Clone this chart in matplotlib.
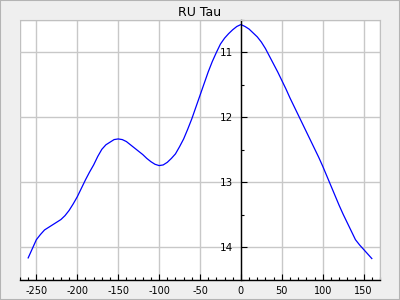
import numpy as np
import matplotlib
matplotlib.use('Agg')
import matplotlib.pyplot as plt
from matplotlib.ticker import MultipleLocator, FuncFormatter
from matplotlib.patches import Rectangle

# phase (days) and magnitude
phase = [-260, -255, -250, -245, -240, -235, -230, -225, -220, -215,
         -210, -205, -200, -195, -190, -185, -180, -175, -170, -165,
         -160, -155, -150, -145, -140, -135, -130, -125, -120, -115,
         -110, -105, -100, -95, -90, -85, -80, -75, -70, -65,
         -60, -55, -50, -45, -40, -35, -30, -25, -20, -15,
         -10, -5, 0, 5, 10, 15, 20, 25, 30, 35,
         40, 45, 50, 55, 60, 65, 70, 75, 80, 85,
         90, 95, 100, 105, 110, 115, 120, 125, 130, 135,
         140, 145, 150, 155, 160]
mag = [14.16, 14.02, 13.88, 13.80, 13.73, 13.69, 13.65, 13.61, 13.57, 13.51,
       13.43, 13.33, 13.22, 13.09, 12.96, 12.84, 12.73, 12.60, 12.49, 12.42,
       12.38, 12.34, 12.33, 12.34, 12.37, 12.42, 12.47, 12.52, 12.57, 12.63,
       12.68, 12.72, 12.74, 12.73, 12.69, 12.63, 12.56, 12.45, 12.33, 12.18,
       12.02, 11.84, 11.66, 11.48, 11.30, 11.14, 11.00, 10.87, 10.78, 10.71,
       10.65, 10.60, 10.57, 10.60, 10.64, 10.70, 10.76, 10.84, 10.94, 11.06,
       11.18, 11.30, 11.43, 11.56, 11.70, 11.83, 11.96, 12.09, 12.22, 12.35,
       12.48, 12.61, 12.75, 12.90, 13.05, 13.20, 13.35, 13.49, 13.62, 13.75,
       13.88, 13.96, 14.03, 14.10, 14.17]
title_ = 'RU Tau'
xticks_ = [-250, -200, -150, -100, -50, 0, 50, 100, 150]
yticks_ = [11, 12, 13, 14]

fig = plt.figure(figsize=(4, 3), dpi=100, facecolor='#efefef')
fig.patches.append(Rectangle((0, 0), 1, 1, transform=fig.transFigure,
                             facecolor='none', edgecolor='#b4b4b4', linewidth=1.5))
ax = fig.add_axes([0.05, 0.0667, 0.9, 0.8667])
ax.plot(phase, mag, color='#0000ff', linewidth=0.9)

ax.set_xlim(-270, 170)
ax.set_ylim(14.5, 10.5)
ax.set_xticks(xticks_)
ax.set_yticks(yticks_)
ax.xaxis.set_minor_locator(MultipleLocator(10))
ax.yaxis.set_minor_locator(MultipleLocator(0.5))
ax.xaxis.set_major_formatter(FuncFormatter(lambda v, p: '%d' % v))
ax.yaxis.set_major_formatter(FuncFormatter(lambda v, p: '%d' % v))
ax.grid(True, color='#c8c8c8', linewidth=1.0)
ax.set_axisbelow(True)

# axis lines: y spine sits at x=0
ax.spines['left'].set_position(('data', 0))
ax.spines['left'].set_color('black')
ax.spines['left'].set_linewidth(1.0)
ax.spines['bottom'].set_color('black')
ax.spines['bottom'].set_linewidth(1.0)
ax.spines['top'].set_color('#c0c0c0')
ax.spines['right'].set_color('#c0c0c0')
ax.add_patch(Rectangle((0, 0), 1, 1, transform=ax.transAxes, facecolor='none',
                       edgecolor='#c0c0c0', linewidth=1.0, zorder=0.5))

ax.tick_params(axis='x', which='major', direction='in', length=4, width=0.8, pad=4, labelsize=7)
ax.tick_params(axis='x', which='minor', direction='in', length=2, width=0.8)
ax.tick_params(axis='y', which='major', direction='in', length=4, width=0.8, pad=6, labelsize=7.5)
ax.tick_params(axis='y', which='minor', direction='in', length=2, width=0.8)
ax.tick_params(axis='both', which='both', top=False, right=False)

ax.set_title(title_, fontsize=9, pad=3)

fig.savefig('out.png', dpi=100, facecolor=fig.get_facecolor())
